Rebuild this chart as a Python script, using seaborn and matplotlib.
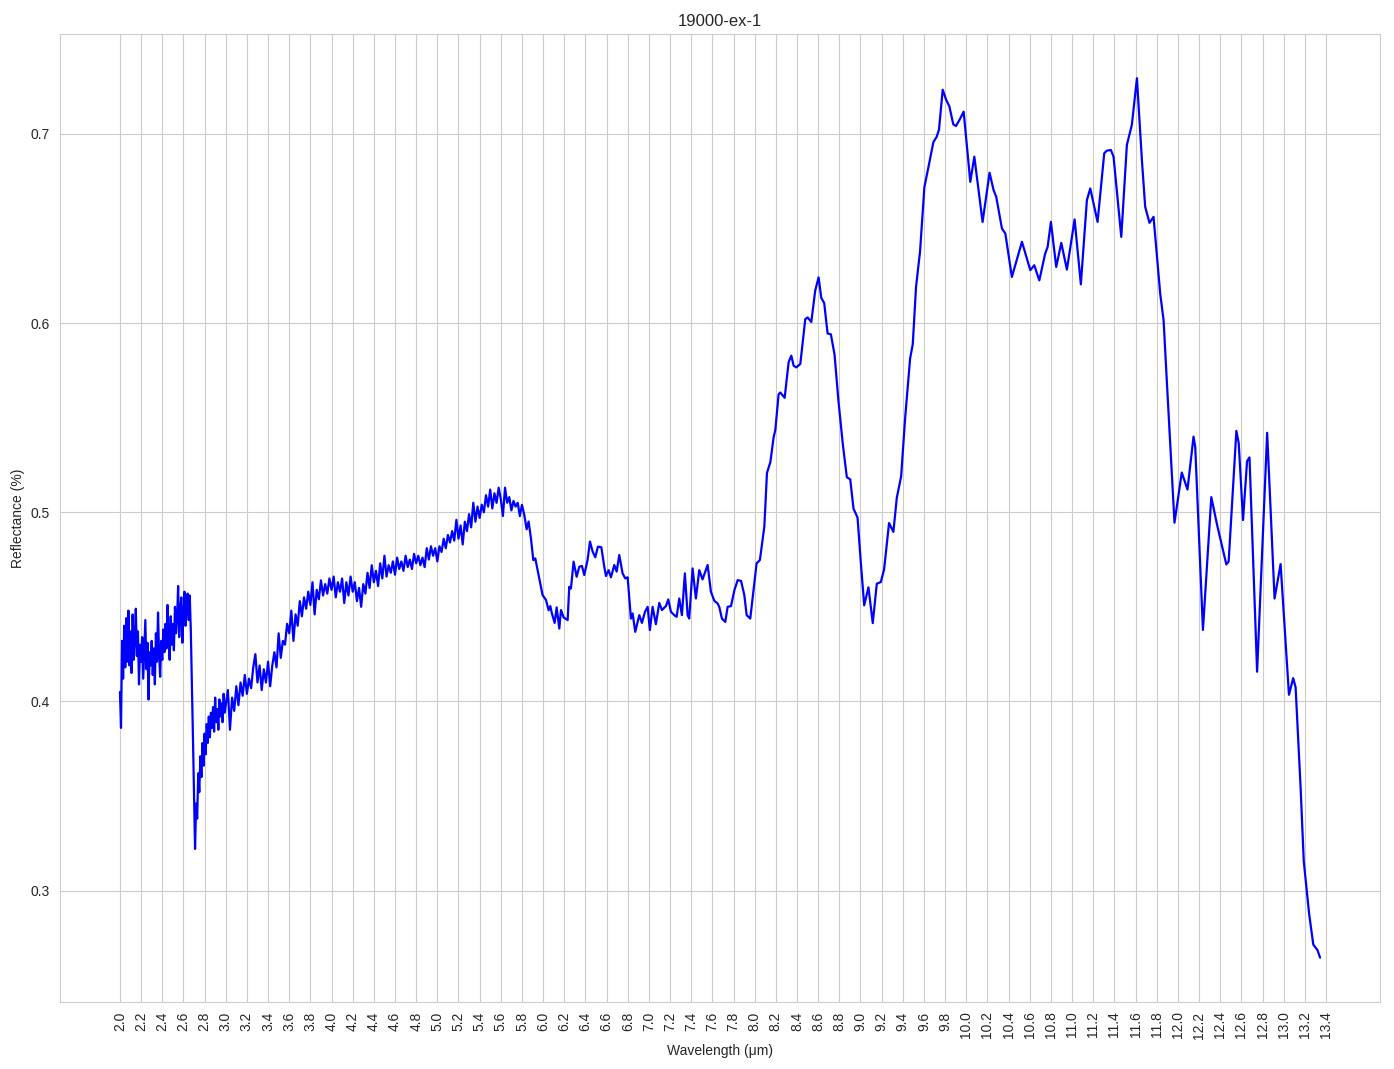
import matplotlib
matplotlib.use("Agg")
import matplotlib.pyplot as plt
import seaborn as sns
import numpy as np
import pandas as pd

# noisy short-wave part, sampled every 0.01 um from 2.00 to 2.99
swir_start, swir_step = 2.00, 0.01
swir_refl = [
    0.405, 0.386, 0.432, 0.412, 0.440, 0.418, 0.444, 0.421, 0.448, 0.419,
    0.437, 0.415, 0.446, 0.422, 0.433, 0.449, 0.424, 0.437, 0.409, 0.430,
    0.421, 0.434, 0.412, 0.428, 0.443, 0.417, 0.431, 0.401, 0.426, 0.419,
    0.432, 0.414, 0.428, 0.409, 0.436, 0.421, 0.447, 0.425, 0.413, 0.432,
    0.422, 0.438, 0.426, 0.441, 0.428, 0.451, 0.433, 0.422, 0.445, 0.430,
    0.441, 0.427, 0.450, 0.436, 0.444, 0.461, 0.434, 0.448, 0.455, 0.431,
    0.446, 0.458, 0.440, 0.452, 0.457, 0.443, 0.456, 0.437, 0.410, 0.381,
    0.350, 0.322, 0.346, 0.338, 0.362, 0.352, 0.371, 0.360, 0.378, 0.366,
    0.383, 0.372, 0.388, 0.378, 0.392, 0.381, 0.394, 0.386, 0.397, 0.384,
    0.402, 0.389, 0.396, 0.385, 0.401, 0.392, 0.399, 0.389, 0.404, 0.394,
]

# noisy mid part, sampled every 0.02 um from 3.00 to 5.78
mwir_start, mwir_step = 3.00, 0.02
mwir_refl = [
    0.398, 0.406, 0.385, 0.402, 0.395, 0.408, 0.398, 0.410, 0.403, 0.414,
    0.404, 0.412, 0.407, 0.418, 0.425, 0.410, 0.419, 0.406, 0.417, 0.410,
    0.421, 0.408, 0.419, 0.426, 0.418, 0.436, 0.423, 0.432, 0.430, 0.441,
    0.436, 0.448, 0.432, 0.446, 0.440, 0.453, 0.445, 0.455, 0.449, 0.458,
    0.451, 0.463, 0.446, 0.459, 0.454, 0.464, 0.456, 0.462, 0.457, 0.465,
    0.459, 0.466, 0.455, 0.463, 0.458, 0.465, 0.452, 0.463, 0.456, 0.466,
    0.458, 0.463, 0.453, 0.460, 0.450, 0.462, 0.457, 0.468, 0.460, 0.472,
    0.463, 0.469, 0.461, 0.473, 0.465, 0.477, 0.466, 0.472, 0.468, 0.474,
    0.467, 0.476, 0.470, 0.474, 0.469, 0.477, 0.471, 0.475, 0.470, 0.478,
    0.473, 0.477, 0.472, 0.476, 0.471, 0.481, 0.475, 0.482, 0.477, 0.481,
    0.474, 0.482, 0.479, 0.486, 0.481, 0.488, 0.484, 0.490, 0.485, 0.496,
    0.486, 0.493, 0.483, 0.495, 0.490, 0.499, 0.492, 0.505, 0.495, 0.503,
    0.497, 0.504, 0.500, 0.509, 0.503, 0.512, 0.502, 0.510, 0.505, 0.513,
    0.507, 0.498, 0.513, 0.505, 0.508, 0.501, 0.506, 0.503, 0.505, 0.498,
]

# smoother long-wave part, irregular samples
lwir_wl = [
    5.800, 5.822, 5.844, 5.863, 5.885, 5.907, 5.926, 5.948, 5.970, 5.995,
    6.027, 6.052, 6.068, 6.083, 6.109, 6.128, 6.153, 6.169, 6.194, 6.232,
    6.247, 6.263, 6.288, 6.317, 6.342, 6.367, 6.389, 6.420, 6.443, 6.468,
    6.493, 6.518, 6.550, 6.578, 6.594, 6.619, 6.641, 6.673, 6.695, 6.720,
    6.751, 6.777, 6.799, 6.830, 6.846, 6.871, 6.909, 6.934, 6.963, 6.988,
    7.009, 7.035, 7.066, 7.098, 7.123, 7.161, 7.183, 7.208, 7.240, 7.262,
    7.287, 7.312, 7.340, 7.366, 7.381, 7.413, 7.444, 7.476, 7.507, 7.555,
    7.586, 7.618, 7.649, 7.665, 7.690, 7.722, 7.744, 7.776, 7.808, 7.839,
    7.871, 7.902, 7.924, 7.958, 7.996, 8.018, 8.049, 8.091, 8.116, 8.148,
    8.179, 8.195, 8.226, 8.242, 8.283, 8.321, 8.346, 8.368, 8.393, 8.431,
    8.478, 8.500, 8.535, 8.572, 8.604, 8.629, 8.657, 8.689, 8.720, 8.755,
    8.792, 8.833, 8.871, 8.903, 8.934, 8.972, 9.003, 9.035, 9.075, 9.116,
    9.154, 9.192, 9.223, 9.270, 9.311, 9.343, 9.384, 9.421, 9.469, 9.494,
    9.525, 9.563, 9.604, 9.642, 9.689, 9.720, 9.742, 9.777, 9.808, 9.840,
    9.877, 9.903, 9.940, 9.975, 10.038, 10.076, 10.154, 10.220, 10.258, 10.283,
    10.337, 10.369, 10.431, 10.526, 10.605, 10.643, 10.690, 10.746, 10.769, 10.800,
    10.850, 10.898, 10.951, 11.024, 11.083, 11.140, 11.172, 11.241, 11.304, 11.329,
    11.367, 11.392, 11.465, 11.518, 11.565, 11.613, 11.660, 11.691, 11.732, 11.770,
    11.833, 11.865, 11.895, 11.968, 12.037, 12.091, 12.148, 12.164, 12.237, 12.316,
    12.370, 12.458, 12.480, 12.553, 12.575, 12.616, 12.654, 12.677, 12.749, 12.844,
    12.914, 12.971, 13.050, 13.090, 13.113, 13.160, 13.190, 13.240, 13.280, 13.320,
    13.344,
]
lwir_refl = [
    0.5039, 0.4986, 0.4910, 0.4951, 0.4862, 0.4747, 0.4756, 0.4694, 0.4633, 0.4562,
    0.4536, 0.4482, 0.4504, 0.4465, 0.4415, 0.4497, 0.4385, 0.4483, 0.4444, 0.4430,
    0.4606, 0.4597, 0.4739, 0.4659, 0.4712, 0.4716, 0.4668, 0.4747, 0.4845, 0.4792,
    0.4762, 0.4818, 0.4815, 0.4712, 0.4663, 0.4694, 0.4656, 0.4721, 0.4686, 0.4774,
    0.4677, 0.4650, 0.4656, 0.4438, 0.4465, 0.4368, 0.4456, 0.4415, 0.4474, 0.4500,
    0.4377, 0.4500, 0.4408, 0.4521, 0.4483, 0.4504, 0.4539, 0.4474, 0.4456, 0.4447,
    0.4544, 0.4456, 0.4677, 0.4456, 0.4438, 0.4703, 0.4544, 0.4694, 0.4645, 0.4721,
    0.4580, 0.4532, 0.4518, 0.4500, 0.4438, 0.4420, 0.4500, 0.4504, 0.4588, 0.4641,
    0.4637, 0.4562, 0.4456, 0.4438, 0.4624, 0.4730, 0.4747, 0.4924, 0.5208, 0.5265,
    0.5397, 0.5435, 0.5624, 0.5633, 0.5605, 0.5794, 0.5828, 0.5775, 0.5766, 0.5784,
    0.6021, 0.6030, 0.6006, 0.6172, 0.6242, 0.6134, 0.6106, 0.5945, 0.5941, 0.5832,
    0.5586, 0.5359, 0.5185, 0.5174, 0.5019, 0.4972, 0.4735, 0.4508, 0.4603, 0.4414,
    0.4622, 0.4631, 0.4697, 0.4943, 0.4896, 0.5076, 0.5189, 0.5491, 0.5813, 0.5888,
    0.6191, 0.6380, 0.6720, 0.6824, 0.6957, 0.6985, 0.7023, 0.7234, 0.7183, 0.7146,
    0.7051, 0.7042, 0.7079, 0.7118, 0.6747, 0.6880, 0.6535, 0.6795, 0.6703, 0.6668,
    0.6500, 0.6474, 0.6244, 0.6430, 0.6280, 0.6306, 0.6226, 0.6368, 0.6403, 0.6535,
    0.6297, 0.6424, 0.6283, 0.6548, 0.6205, 0.6650, 0.6712, 0.6535, 0.6898, 0.6912,
    0.6915, 0.6880, 0.6456, 0.6942, 0.7048, 0.7295, 0.6862, 0.6615, 0.6530, 0.6562,
    0.6156, 0.6015, 0.5700, 0.4945, 0.5210, 0.5120, 0.5400, 0.5346, 0.4378, 0.5080,
    0.4935, 0.4724, 0.4740, 0.5430, 0.5366, 0.4959, 0.5270, 0.5290, 0.4157, 0.5420,
    0.4544, 0.4726, 0.4035, 0.4123, 0.4074, 0.3546, 0.3155, 0.2880, 0.2714, 0.2685,
    0.2645,
]

x_ticks = np.round(np.arange(2.0, 13.41, 0.2), 1)

swir_wl = np.round(swir_start + swir_step * np.arange(len(swir_refl)), 3)
mwir_wl = np.round(mwir_start + mwir_step * np.arange(len(mwir_refl)), 3)
df = pd.DataFrame({
    "wavelength": np.concatenate([swir_wl, mwir_wl, lwir_wl]),
    "reflectance": np.concatenate([swir_refl, mwir_refl, lwir_refl]),
})

sns.set_style("whitegrid")
plt.rcParams["font.family"] = ["Liberation Sans", "DejaVu Sans"]
fig, ax = plt.subplots(figsize=(13.94, 10.69), dpi=100)
sns.lineplot(data=df, x="wavelength", y="reflectance", color="blue",
             linewidth=1.6, estimator=None, sort=False, ax=ax)
ax.set_xticks(x_ticks)
ax.set_xticklabels([f"{t:.1f}" for t in x_ticks], rotation=90)
ax.set_title("19000-ex-1")
ax.set_xlabel("Wavelength (μm)")
ax.set_ylabel("Reflectance (%)")
fig.subplots_adjust(left=0.043, right=0.99, top=0.968, bottom=0.063)
fig.savefig("out.png")
